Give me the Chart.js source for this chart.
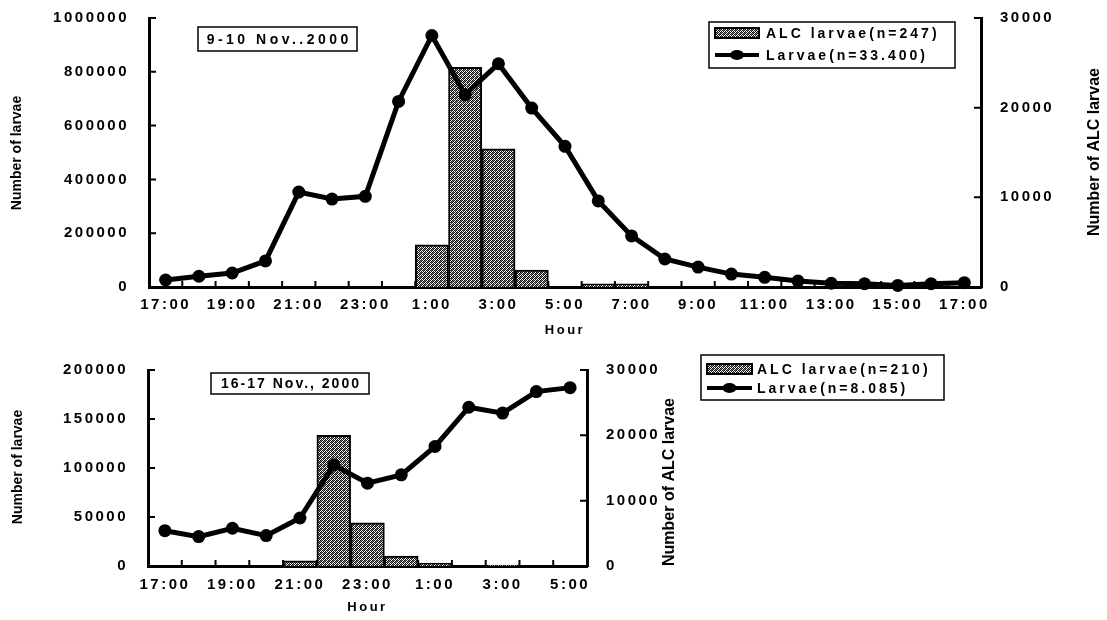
<!DOCTYPE html>
<html>
<head>
<meta charset="utf-8">
<script src="https://cdn.jsdelivr.net/npm/chart.js@4.4.1/dist/chart.umd.min.js"></script>
<style>
  html, body { margin: 0; padding: 0; background: #fff; }
  body { width: 1107px; height: 620px; position: relative; overflow: hidden; }
  canvas { position: absolute; left: 0; }
  #chart-top { top: 0; }
  #chart-bottom { top: 340px; }
</style>
</head>
<body>
<canvas id="chart-top" width="1107" height="345"></canvas>
<canvas id="chart-bottom" width="1107" height="280"></canvas>
<script>
// --- data: 9-10 Nov. 2000 ---
const hoursNov9 = ['17:00', '18:00', '19:00', '20:00', '21:00', '22:00', '23:00', '0:00',
  '1:00', '2:00', '3:00', '4:00', '5:00', '6:00', '7:00', '8:00', '9:00', '10:00',
  '11:00', '12:00', '13:00', '14:00', '15:00', '16:00', '17:00'];
const larvaeNov9 = [26000, 40000, 52000, 97000, 353000, 327000, 337000, 690000,
  935000, 715000, 830000, 665000, 523000, 320000, 190000, 104000, 74000, 48000,
  36000, 22000, 14000, 12000, 6000, 12000, 16000];
const alcNov9 = [0, 0, 0, 0, 0, 0, 0, 0,
  4700, 24500, 15400, 1900, 0, 350, 350, 0, 0, 0,
  0, 0, 0, 0, 0, 0, 0];

// --- data: 16-17 Nov. 2000 ---
const hoursNov16 = ['17:00', '18:00', '19:00', '20:00', '21:00', '22:00', '23:00',
  '0:00', '1:00', '2:00', '3:00', '4:00', '5:00'];
const larvaeNov16 = [36000, 30000, 38500, 31000, 49000, 103000, 84500,
  93000, 122000, 162000, 156000, 178000, 182000];
const alcNov16 = [0, 0, 0, 0, 800, 20000, 6600, 1500, 400, 0, 150, 0, 0];

// axis ranges (tick labels)
const larvaeTicksNov9 = { min: 0, max: 1000000, step: 200000 };
const larvaeTicksNov16 = { min: 0, max: 200000, step: 50000 };
const alcTicks = { min: 0, max: 30000, step: 10000 };

const FONT = '"Liberation Sans", Arial, sans-serif';

// stipple fill like the printed bars
function makeStipple() {
  const c = document.createElement('canvas');
  c.width = 4; c.height = 4;
  const g = c.getContext('2d');
  g.fillStyle = '#fff';
  g.fillRect(0, 0, 4, 4);
  g.fillStyle = '#111';
  [[0, 0], [2, 0], [1, 1], [3, 1], [0, 2], [2, 2], [1, 3], [3, 3]].forEach(p => g.fillRect(p[0], p[1], 1, 1));
  g.fillStyle = '#777';
  [[1, 0], [0, 1], [3, 2]].forEach(p => g.fillRect(p[0], p[1], 1, 1));
  return g.createPattern(c, 'repeat');
}
const stipple = makeStipple();

// ticks inside, rotated axis titles, note box and legend box
const decorPlugin = {
  id: 'decor',
  beforeDraw(chart) {
    chart.ctx.letterSpacing = '2.5px';
  },
  afterDraw(chart, args, o) {
    const ctx = chart.ctx;
    const area = chart.chartArea;
    const xs = chart.scales.x, yl = chart.scales.y, yr = chart.scales.y1;
    ctx.save();
    ctx.strokeStyle = '#000';
    ctx.fillStyle = '#000';
    ctx.lineWidth = 2;
    ctx.beginPath();
    for (let i = 1; i < chart.data.labels.length; i++) {
      const px = (xs.getPixelForValue(i - 1) + xs.getPixelForValue(i)) / 2;
      ctx.moveTo(px, area.bottom);
      ctx.lineTo(px, area.bottom - 6);
    }
    yl.ticks.forEach(t => {
      if (t.value <= 0) return;
      const py = yl.getPixelForValue(t.value);
      ctx.moveTo(area.left, py);
      ctx.lineTo(area.left + 7, py);
    });
    yr.ticks.forEach(t => {
      if (t.value <= 0) return;
      const py = yr.getPixelForValue(t.value);
      ctx.moveTo(area.right, py);
      ctx.lineTo(area.right - 7, py);
    });
    ctx.stroke();

    // y titles (no letter spacing)
    ctx.letterSpacing = '0px';
    ctx.textAlign = 'center';
    ctx.textBaseline = 'middle';
    o.yTitles.forEach(t => {
      ctx.save();
      ctx.translate(t.x, t.y);
      ctx.rotate(-Math.PI / 2);
      ctx.font = `bold ${t.size}px ${FONT}`;
      ctx.fillText(t.text, 0, 0);
      ctx.restore();
    });

    // date note
    const n = o.note;
    ctx.lineWidth = 1.5;
    ctx.strokeRect(n.x, n.y, n.w, n.h);
    ctx.letterSpacing = n.spacing + 'px';
    ctx.font = `bold ${n.size}px ${FONT}`;
    ctx.fillText(n.text, n.x + n.w / 2 + n.spacing / 2, n.y + n.h / 2 + 1);

    // legend
    const L = o.legend;
    const bar = chart.data.datasets.find(d => d.type === 'bar');
    const line = chart.data.datasets.find(d => d.type === 'line');
    ctx.lineWidth = 1.5;
    ctx.strokeRect(L.x, L.y, L.w, L.h);
    ctx.fillStyle = bar.backgroundColor;
    ctx.fillRect(L.sx0, L.row1 - 5, L.sx1 - L.sx0, 10);
    ctx.lineWidth = 2;
    ctx.strokeRect(L.sx0, L.row1 - 5, L.sx1 - L.sx0, 10);
    ctx.fillStyle = '#000';
    ctx.lineWidth = 4;
    ctx.beginPath();
    ctx.moveTo(L.sx0, L.row2);
    ctx.lineTo(L.sx1, L.row2);
    ctx.stroke();
    ctx.beginPath();
    ctx.ellipse((L.sx0 + L.sx1) / 2, L.row2, 7, 5, 0, 0, Math.PI * 2);
    ctx.fill();
    ctx.letterSpacing = L.spacing + 'px';
    ctx.font = `bold ${L.size}px ${FONT}`;
    ctx.textAlign = 'left';
    ctx.fillText(bar.label, L.tx, L.row1 + 1);
    ctx.fillText(line.label, L.tx, L.row2 + 1);
    ctx.restore();
  }
};

// fixed axis box; drop the automatic label padding so layout.padding rules the top
function fixAxis(width) {
  return s => {
    s.width = width;
    s.paddingTop = 0;
    s.paddingBottom = 0;
  };
}

function buildChart(id, cfg) {
  const tickFont = { family: FONT, size: 15, weight: 'bold' };
  return new Chart(document.getElementById(id), {
    type: 'bar',
    data: {
      labels: cfg.labels,
      datasets: [
        {
          type: 'line', label: cfg.lineLabel, data: cfg.line, yAxisID: 'y', order: 0,
          borderColor: '#000', borderWidth: 5, tension: 0, clip: false,
          pointRadius: 6.5, pointBackgroundColor: '#000', pointBorderColor: '#000', pointBorderWidth: 0
        },
        {
          type: 'bar', label: cfg.barLabel, data: cfg.bars, yAxisID: 'y1', order: 1,
          backgroundColor: stipple, borderColor: '#000', borderWidth: 2,
          barPercentage: 1, categoryPercentage: 1
        }
      ]
    },
    options: {
      responsive: false,
      animation: false,
      layout: { padding: { top: cfg.top, left: 0, right: cfg.padRight, bottom: 0 } },
      plugins: {
        legend: { display: false },
        tooltip: { enabled: false },
        decor: cfg.decor
      },
      scales: {
        x: {
          grid: { display: false, drawTicks: false },
          border: { display: true, color: '#000', width: 3 },
          ticks: {
            autoSkip: false, maxRotation: 0, padding: cfg.xPad, color: '#000', font: tickFont,
            callback: function (v, i) { return i % 2 === 0 ? this.getLabelForValue(v) : ''; }
          },
          title: {
            display: true, text: 'Hour', color: '#000',
            font: { family: FONT, size: 13, weight: 'bold' },
            padding: { top: 2, bottom: cfg.hourPad }
          },
          afterFit: s => { s.height = cfg.xHeight; }
        },
        y: {
          position: 'left',
          min: cfg.leftTicks.min, max: cfg.leftTicks.max,
          grid: { display: false, drawTicks: false },
          border: { display: true, color: '#000', width: 3 },
          ticks: { stepSize: cfg.leftTicks.step, padding: 20, color: '#000', font: tickFont, callback: v => String(v) },
          afterFit: fixAxis(cfg.leftWidth)
        },
        y1: {
          position: 'right',
          min: alcTicks.min, max: alcTicks.max,
          grid: { display: false, drawTicks: false },
          border: { display: true, color: '#000', width: 3 },
          ticks: { stepSize: alcTicks.step, padding: 19, color: '#000', font: tickFont, callback: v => String(v) },
          afterFit: fixAxis(cfg.rightWidth)
        }
      }
    },
    plugins: [decorPlugin]
  });
}

buildChart('chart-top', {
  labels: hoursNov9, line: larvaeNov9, bars: alcNov9,
  lineLabel: 'Larvae(n=33.400)', barLabel: 'ALC larvae(n=247)',
  leftTicks: larvaeTicksNov9,
  top: 18, padRight: 0, leftWidth: 149, rightWidth: 126,
  xHeight: 58, xPad: 9, hourPad: 7,
  decor: {
    yTitles: [
      { text: 'Number of larvae', x: 17, y: 153, size: 14 },
      { text: 'Number of ALC larvae', x: 1095, y: 152, size: 16 }
    ],
    note: { text: '9-10 Nov..2000', x: 198, y: 27, w: 159, h: 24, size: 14, spacing: 3.5 },
    legend: { x: 709, y: 22, w: 246, h: 46, sx0: 715, sx1: 759, row1: 33, row2: 55, tx: 766, size: 14, spacing: 3 }
  }
});

buildChart('chart-bottom', {
  labels: hoursNov16, line: larvaeNov16, bars: alcNov16,
  lineLabel: 'Larvae(n=8.085)', barLabel: 'ALC larvae(n=210)',
  leftTicks: larvaeTicksNov16,
  top: 30, padRight: 440, leftWidth: 148, rightWidth: 80,
  xHeight: 54, xPad: 10, hourPad: 5,
  decor: {
    yTitles: [
      { text: 'Number of larvae', x: 18, y: 127, size: 14 },
      { text: 'Number of ALC larvae', x: 670, y: 142, size: 16 }
    ],
    note: { text: '16-17 Nov., 2000', x: 211, y: 33, w: 158, h: 21, size: 14, spacing: 2 },
    legend: { x: 701, y: 15, w: 243, h: 45, sx0: 707, sx1: 752, row1: 29, row2: 48, tx: 757, size: 14, spacing: 3 }
  }
});
</script>
</body>
</html>
